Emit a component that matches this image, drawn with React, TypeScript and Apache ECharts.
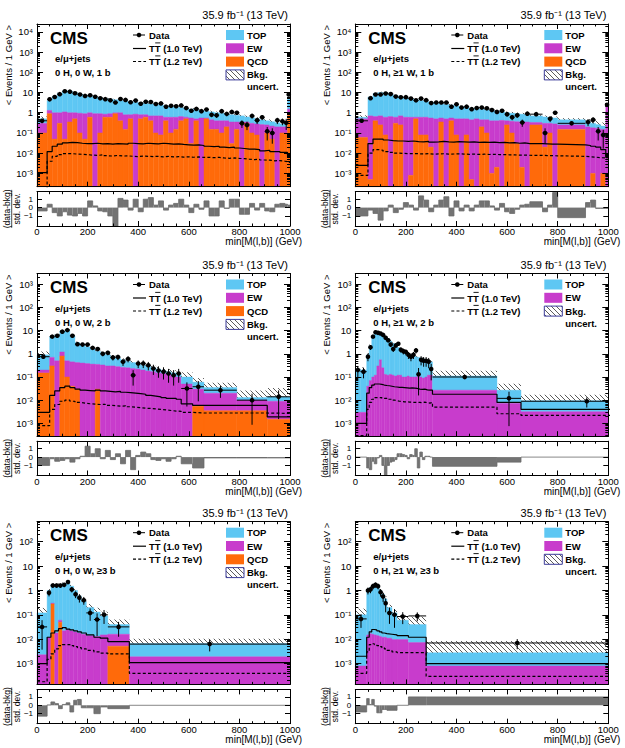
import React, { useEffect, useRef } from "react";
import * as echarts from "echarts";

// ---------------- Panel 1 : 0 H, 0 W, 1 b ----------------
const p1Edges = [0, 40, 60, 80, 100, 120, 140, 160, 180, 200, 220, 240, 260, 280, 300, 320, 340, 360, 380, 400, 420, 440, 460, 480, 500, 520, 540, 560, 580, 600, 620, 640, 660, 680, 700, 720, 740, 760, 780, 800, 820, 840, 860, 880, 900, 920, 940, 960, 980, 990, 1000];
const p1Qcd = [0.1, 0.9, 0.05, 0.3, 0.05, 0.35, 0.5, 0.1, 0.05, 0.6, 0, 0.1, 0.6, 0.6, 0.9, 0.4, 0.15, 0.5, 0, 0.5, 0.6, 0.4, 0.1, 0.08, 0.4, 0.1, 0.15, 0.4, 0.5, 0.03, 0.4, 0, 0.5, 0.15, 0.15, 0.1, 0.2, 0.03, 0.15, 0, 0.3, 0.1, 0.08, 0, 0.1, 0.05, 0, 0.1, 0.1, 1.0];
const p1EwQcd = [0.3, 1.3, 1.0, 1.0, 1.1, 1.0, 1.0, 0.95, 0.9, 1.0, 0.9, 0.9, 0.85, 0.9, 1.0, 1.0, 0.8, 0.8, 0.85, 0.8, 0.8, 0.7, 0.7, 0.7, 0.6, 0.6, 0.6, 0.65, 0.6, 0.55, 0.5, 0.55, 0.55, 0.45, 0.4, 0.4, 0.4, 0.35, 0.35, 0.35, 0.35, 0.3, 0.28, 0.26, 0.25, 0.22, 0.2, 0.2, 0.2, 1.5];
const p1Bkg = [0.5, 4.0, 6.5, 9, 12, 12, 10, 8.5, 7.5, 6.5, 6.0, 5.5, 5.0, 4.7, 4.4, 4.0, 3.7, 3.5, 3.3, 3.1, 2.9, 2.7, 2.5, 2.4, 2.2, 2.0, 1.9, 1.8, 1.6, 1.5, 1.4, 1.3, 1.2, 1.1, 1.0, 0.95, 0.9, 0.8, 0.75, 0.7, 0.62, 0.56, 0.5, 0.45, 0.4, 0.36, 0.32, 0.28, 0.25, 6];
const p1Unc = [0.3, 0.15, 0.12, 0.1, 0.1, 0.1, 0.1, 0.1, 0.1, 0.1, 0.1, 0.1, 0.1, 0.11, 0.11, 0.11, 0.11, 0.11, 0.12, 0.12, 0.12, 0.12, 0.12, 0.12, 0.13, 0.13, 0.13, 0.13, 0.14, 0.14, 0.14, 0.14, 0.15, 0.15, 0.15, 0.16, 0.16, 0.16, 0.17, 0.17, 0.18, 0.18, 0.19, 0.19, 0.2, 0.2, 0.22, 0.22, 0.25, 0.15];
const p1Data = [0.4, 4.6, 6.0, 8.3, 11.5, 11, 9.2, 8.0, 6.8, 7.3, 6.2, 5.2, 4.7, 4.1, 3.2, 4.8, 4.3, 3.3, 4.0, 2.8, 3.5, 3.4, 2.7, 2.9, 2.0, 2.2, 2.1, 2.3, 1.7, 1.25, 1.55, 1.2, 1.45, 0.8, 0.75, 1.2, 0.88, 1.1, 1.0, 0.3, 0.25, 0.7, 0.42, 0.6, 0.12, 0.1, 0.42, 0.38, 0.32, 8];
const p1Ratio = [-0.4, 0.4, -0.6, -1.0, -0.5, -0.9, -1.0, -0.7, -1.0, 0.8, 0.2, -0.4, -0.5, -1.0, -2.2, 1.1, 0.9, -0.3, 1.0, -0.5, 1.0, 1.2, 0.3, 0.8, -0.3, 0.3, 0.5, 1.0, 0.3, -0.6, 0.4, -0.2, 0.8, -1.0, -1.0, 0.8, -0.1, 1.0, 1.0, -0.8, -0.8, 0.5, -0.3, 0.5, -0.4, -0.5, 0.4, 0.5, 0.4, 0.3];
const p1Sig1 = [0.0011, 0.012, 0.022, 0.028, 0.032, 0.034, 0.033, 0.031, 0.030, 0.030, 0.031, 0.029, 0.030, 0.028, 0.030, 0.029, 0.028, 0.031, 0.030, 0.029, 0.031, 0.030, 0.029, 0.031, 0.030, 0.028, 0.029, 0.027, 0.026, 0.025, 0.026, 0.024, 0.022, 0.021, 0.022, 0.020, 0.019, 0.020, 0.018, 0.017, 0.016, 0.016, 0.015, 0.013, 0.014, 0.012, 0.012, 0.011, 0.011, 0.008];
const p1Sig2 = [0.00015, 0.004, 0.007, 0.0085, 0.0095, 0.0095, 0.009, 0.0088, 0.0085, 0.008, 0.0078, 0.0082, 0.0075, 0.0072, 0.0078, 0.0072, 0.0074, 0.007, 0.0068, 0.0072, 0.007, 0.0068, 0.007, 0.0066, 0.0069, 0.0065, 0.0067, 0.0064, 0.0066, 0.0063, 0.0065, 0.0062, 0.0063, 0.006, 0.0062, 0.0058, 0.0056, 0.0058, 0.0055, 0.0054, 0.005, 0.0048, 0.005, 0.0046, 0.0045, 0.0042, 0.0043, 0.004, 0.0038, 0.0035];

// ---------------- Panel 2 : 0 H, >=1 W, 1 b ----------------
const p2Edges = [0, 50, 70, 90, 110, 130, 150, 170, 190, 210, 230, 250, 270, 290, 310, 330, 350, 370, 390, 410, 430, 450, 470, 490, 510, 530, 550, 570, 590, 610, 630, 650, 670, 690, 740, 760, 780, 800, 910, 930, 950, 970, 990, 1000];
const p2Qcd = [0.06, 0.0005, 0.4, 0.25, 0.08, 0, 0.3, 0.25, 0, 0.0008, 0.5, 0.08, 0.08, 0.02, 0, 0.35, 0, 0.4, 0.08, 0, 0.08, 0.0005, 0, 0.2, 0.1, 0.001, 0.002, 0, 0.25, 0.1, 0.03, 0.002, 0, 0.25, 0.02, 0.1, 0, 0.15, 0, 0.001, 0, 0.001, 0];
const p2EwQcd = [0.5, 0.7, 0.65, 0.7, 0.6, 0.65, 0.6, 0.7, 0.6, 0.6, 0.6, 0.6, 0.6, 0.55, 0.5, 0.55, 0.5, 0.55, 0.5, 0.5, 0.5, 0.45, 0.5, 0.45, 0.45, 0.4, 0.4, 0.42, 0.4, 0.38, 0.36, 0.35, 0.35, 0.33, 0.3, 0.3, 0.28, 0.25, 0.2, 0.18, 0.17, 0.15, 2.0];
const p2Bkg = [0.6, 6, 9, 10, 9.5, 8, 7, 6, 5.3, 4.8, 4.4, 4.0, 3.6, 3.3, 3.0, 2.8, 2.6, 2.4, 2.2, 2.0, 1.85, 1.7, 1.6, 1.5, 1.4, 1.3, 1.2, 1.1, 1.0, 0.95, 0.9, 0.85, 0.8, 0.7, 0.62, 0.58, 0.55, 0.45, 0.35, 0.3, 0.26, 0.22, 2.5];
const p2Unc = [0.25, 0.15, 0.1, 0.1, 0.1, 0.1, 0.1, 0.1, 0.1, 0.11, 0.11, 0.11, 0.11, 0.12, 0.12, 0.12, 0.12, 0.12, 0.13, 0.13, 0.13, 0.13, 0.14, 0.14, 0.14, 0.14, 0.15, 0.15, 0.15, 0.16, 0.16, 0.16, 0.17, 0.17, 0.18, 0.18, 0.19, 0.2, 0.4, 0.45, 0.5, 0.5, 0.2];
const p2Data = [0.4, 5.2, 8.0, 8.0, 9.0, 8.4, 6.3, 5.8, 5.9, 5.0, 4.1, 5.0, 4.2, 3.0, 3.2, 3.2, 3.2, 2.0, 2.6, 1.8, 2.0, 1.5, 1.7, 1.8, 1.65, 1.35, 1.1, 1.25, 0.85, 0.6, 0.75, 0.33, 0.9, 0.85, 0.1, 0.5, 1.0, 0.3, 0.35, 0.45, 0.12, 0.08, 2.5];
const p2Ratio = [-1.0, -0.3, -0.7, -1.5, -0.4, 0.3, -0.6, -0.2, 0.6, 0.3, -0.3, 1.4, 0.9, -0.5, 0.3, 0.9, 1.3, -1.0, 0.8, -0.4, 0.3, -0.4, 0.3, 0.8, 0.8, 0.2, -0.3, 0.5, -0.5, -0.7, -0.2, 0.3, 0.4, 0.7, -0.5, 0.3, 1.8, -1.2, 0.6, 0.9, -0.1, -0.1, -0.1];
const p2Sig1 = [0.0025, 0.03, 0.05, 0.05, 0.045, 0.042, 0.04, 0.04, 0.038, 0.04, 0.037, 0.036, 0.038, 0.035, 0.036, 0.038, 0.036, 0.035, 0.037, 0.036, 0.035, 0.036, 0.034, 0.035, 0.034, 0.035, 0.033, 0.034, 0.032, 0.033, 0.031, 0.032, 0.03, 0.03, 0.029, 0.028, 0.028, 0.026, 0.024, 0.022, 0.02, 0.015, 0.007];
const p2Sig2 = [0.0008, 0.01, 0.015, 0.014, 0.012, 0.011, 0.01, 0.0098, 0.0095, 0.0096, 0.0094, 0.0092, 0.0095, 0.009, 0.0092, 0.0094, 0.009, 0.0091, 0.0093, 0.009, 0.0088, 0.009, 0.0087, 0.0089, 0.0086, 0.0088, 0.0085, 0.0086, 0.0083, 0.0082, 0.008, 0.0081, 0.0079, 0.0078, 0.0076, 0.0075, 0.0074, 0.007, 0.0066, 0.0064, 0.006, 0.0058, 0.005];

// ---------------- Panel 3 : 0 H, 0 W, 2 b ----------------
const p3Edges = [0, 50, 70, 90, 110, 130, 150, 170, 190, 210, 230, 250, 270, 290, 310, 330, 350, 370, 390, 410, 430, 450, 470, 490, 510, 530, 550, 570, 615, 660, 790, 910, 1000];
const p3Qcd = [0.15, 0.3, 0, 0.8, 0.1, 0.04, 0.03, 0, 0, 0, 0.03, 0, 0, 0, 0, 0, 0, 0, 0, 0, 0, 0, 0, 0, 0, 0, 0, 0, 0.0055, 0.0035, 0.0035, 0.0015];
const p3EwQcd = [0.2, 0.7, 0.5, 1.2, 0.5, 0.45, 0.42, 0.4, 0.38, 0.36, 0.35, 0.33, 0.3, 0.3, 0.28, 0.26, 0.25, 0.23, 0.22, 0.2, 0.18, 0.17, 0.15, 0.14, 0.13, 0.11, 0.1, 0.05, 0.03, 0.02, 0.01, 0.009];
const p3Bkg = [0.9, 5.5, 6.5, 9.5, 10, 6, 3.0, 2.5, 2.0, 1.6, 1.3, 1.1, 0.9, 0.75, 0.65, 0.55, 0.48, 0.42, 0.36, 0.32, 0.28, 0.25, 0.22, 0.19, 0.17, 0.15, 0.13, 0.1, 0.06, 0.035, 0.013, 0.014];
const p3Unc = [0.4, 0.15, 0.12, 0.1, 0.1, 0.1, 0.12, 0.12, 0.12, 0.13, 0.13, 0.14, 0.14, 0.15, 0.15, 0.16, 0.16, 0.17, 0.18, 0.19, 0.2, 0.22, 0.24, 0.26, 0.28, 0.3, 0.32, 0.6, 0.5, 0.6, 1.0, 1.4];
const p3Data = [0.75, 5.5, 6.0, 9.0, 10.5, 6.0, 2.6, 2.5, 2.5, 1.8, 1.6, 1.0, 1.1, 0.7, 0.72, 0.45, 0.6, 0.12, 0.38, 0.38, 0.32, 0.23, 0.19, 0.17, 0.14, 0.12, 0.14, 0.032, 0.038, 0.027, 0.01, 0.014];
const p3Ratio = [-1.0, -0.2, -0.5, -0.4, -0.2, -0.6, -0.2, 0.1, 1.3, 0.4, 1.0, -0.2, 0.8, -0.3, 0.4, -0.8, 0.8, -1.5, 0.2, 0.6, 0.4, -0.3, -0.4, -0.2, -0.5, -0.2, 0.1, -0.8, -1.3, -0.1, -0.1, -0.1];
const p3Sig1 = [0.003, 0.016, 0.025, 0.035, 0.04, 0.035, 0.03, 0.027, 0.026, 0.025, 0.027, 0.025, 0.024, 0.023, 0.024, 0.022, 0.021, 0.02, 0.019, 0.018, 0.016, 0.015, 0.014, 0.013, 0.012, 0.012, 0.011, 0.007, 0.006, 0.006, 0.006, 0.0019];
const p3Sig2 = [0.0008, 0.004, 0.0065, 0.009, 0.01, 0.009, 0.008, 0.0075, 0.007, 0.0068, 0.0065, 0.0066, 0.006, 0.0058, 0.0055, 0.0057, 0.0052, 0.005, 0.0048, 0.0045, 0.0044, 0.0042, 0.004, 0.0038, 0.0036, 0.0034, 0.0033, 0.003, 0.0028, 0.0028, 0.0028, 0.0027];

// ---------------- Panel 4 : 0 H, >=1 W, 2 b ----------------
const p4Edges = [0, 20, 45, 55, 65, 75, 85, 95, 105, 115, 125, 135, 145, 155, 165, 175, 185, 195, 205, 215, 225, 235, 245, 255, 265, 275, 285, 295, 305, 560, 655, 1175];
const p4Ew = [0.003, 0.003, 0.04, 0.07, 0.1, 0.12, 0.3, 0.55, 0.25, 0.13, 0.12, 0.13, 0.12, 0.11, 0.12, 0.12, 0.1, 0.1, 0.11, 0.1, 0.1, 0.1, 0.11, 0.1, 0.09, 0.1, 0.12, 0.12, 0.027, 0.0073, 0.0032];
const p4Bkg = [0.22, 0.2, 0.9, 2.2, 5.5, 8.0, 8.0, 7.5, 6.5, 5.5, 4.5, 3.5, 2.8, 2.2, 1.9, 1.6, 1.4, 1.2, 1.0, 0.9, 0.8, 0.75, 0.7, 0.65, 0.6, 0.55, 0.5, 0.45, 0.11, 0.027, 0.0095];
const p4Unc = [0.3, 0.3, 0.2, 0.15, 0.12, 0.12, 0.12, 0.12, 0.12, 0.12, 0.12, 0.12, 0.12, 0.12, 0.12, 0.12, 0.12, 0.13, 0.13, 0.13, 0.13, 0.13, 0.14, 0.14, 0.14, 0.15, 0.15, 0.15, 0.7, 0.9, 0.8];
const p4Data = [0.2, 0.17, 0.75, 1.9, 5.5, 8.5, 8.0, 7.5, 6.5, 4.9, 3.8, 2.5, 1.6, 2.3, 2.7, 1.5, 1.3, 1.2, 0.9, 0.75, 0.9, 1.4, 0.13, 0.55, 0.5, 0.5, 0.45, 0.22, 0.1, 0.012, 0.009];
const p4Ratio = [0, 0, -1.3, -1.5, -0.5, -0.8, -0.1, 0.2, -1.0, -2.2, -1.0, -0.6, -0.5, -0.3, 0.4, 0.4, 0.3, 0.2, -0.2, 0.3, 0.2, 1.0, -1.3, 0.6, -0.3, 0.1, 0.1, 0, -1.1, -0.6, 0];
const p4Sig1 = [0.001, 0.001, 0.02, 0.035, 0.045, 0.05, 0.05, 0.048, 0.045, 0.043, 0.042, 0.04, 0.038, 0.037, 0.036, 0.036, 0.035, 0.034, 0.033, 0.034, 0.033, 0.032, 0.03, 0.029, 0.03, 0.028, 0.027, 0.027, 0.018, 0.008, 0.004];
const p4Sig2 = [0.0003, 0.0003, 0.004, 0.008, 0.011, 0.013, 0.013, 0.013, 0.012, 0.012, 0.011, 0.011, 0.01, 0.0095, 0.009, 0.0088, 0.0085, 0.0085, 0.0083, 0.0082, 0.008, 0.0082, 0.008, 0.0078, 0.0082, 0.0078, 0.0075, 0.008, 0.005, 0.0026, 0.0022];

// ---------------- Panel 5 : 0 H, 0 W, >=3 b ----------------
const p5Edges = [0, 40, 55, 70, 85, 100, 115, 130, 145, 160, 175, 195, 225, 250, 280, 365, 1000];
const p5Qcd = [0, 0, 0.28, 0, 0.05, 0, 0, 0, 0, 0, 0, 0, 0, 0, 0.0052, 0];
const p5EwQcd = [0.0023, 0.012, 0.3, 0.018, 0.06, 0.022, 0.025, 0.022, 0.02, 0.018, 0.016, 0.014, 0.013, 0.015, 0.016, 0.0019];
const p5Bkg = [0.12, 1.0, 1.7, 1.7, 1.7, 1.9, 2.0, 1.5, 1.0, 0.6, 0.35, 0.2, 0.13, 0.09, 0.04, 0.0066];
const p5Unc = [0.6, 0.15, 0.15, 0.15, 0.15, 0.15, 0.15, 0.15, 0.15, 0.18, 0.2, 0.4, 0.5, 0.5, 0.6, 0.6];
const p5Data = [0.032, 0.8, 1.6, 1.6, 1.6, 1.7, 2.2, 1.1, 0.7, 0.5, 0.4, 0.12, 0.064, 0.1, 0.032, 0.0063];
const p5Ratio = [-1.3, 0.05, 0.4, 0.2, -0.4, 0.1, 0.3, -0.8, 0.6, 0.7, -0.3, -0.3, -1.0, -0.2, -0.4, 0];
const p5Sig1 = [0.001, 0.012, 0.018, 0.022, 0.027, 0.03, 0.026, 0.024, 0.022, 0.02, 0.018, 0.015, 0.012, 0.011, 0.008, 0.0011];
const p5Sig2 = [0.00018, 0.0015, 0.0025, 0.004, 0.0055, 0.006, 0.006, 0.0055, 0.005, 0.0045, 0.004, 0.0035, 0.003, 0.0027, 0.0025, 0.0004];

// ---------------- Panel 6 : 0 H, >=1 W, >=3 b ----------------
const p6Edges = [0, 45, 55, 65, 75, 85, 95, 105, 115, 125, 145, 165, 210, 280, 1000];
const p6Ew = [0.0008, 0.015, 0.017, 0.016, 0.015, 0.014, 0.013, 0.012, 0.012, 0.011, 0.0097, 0.0097, 0.0073, 0.0008];
const p6Bkg = [0.1, 1.0, 1.3, 1.5, 1.6, 1.5, 1.0, 0.7, 0.45, 0.2, 0.12, 0.06, 0.04, 0.0028];
const p6Unc = [0.8, 0.2, 0.15, 0.15, 0.15, 0.15, 0.2, 0.2, 0.25, 0.3, 0.4, 0.6, 1.1, 2.0];
const p6Data = [0.068, 1.0, 1.1, 1.5, 1.7, 1.5, 0.85, 0.57, 0.3, 0.12, 0.1, 0.085, 0.09, 0.007];
const p6Ratio = [-0.8, 0.8, 0.1, 0.7, -0.1, -0.9, -0.9, -0.5, -0.5, -0.6, -0.6, 0, 1.0, 1.0];
const p6Sig1 = [0.002, 0.012, 0.02, 0.025, 0.024, 0.022, 0.02, 0.018, 0.017, 0.016, 0.015, 0.014, 0.012, 0.001];
const p6Sig2 = [0.0004, 0.003, 0.006, 0.0065, 0.006, 0.0055, 0.005, 0.0045, 0.004, 0.0035, 0.003, 0.0028, 0.0028, 0.0003];

const ratioTicks = [-1, 0, 1];

type Panel = {
  edges: number[]; qcd: number[] | null; ewQcd: number[]; bkg: number[]; unc: number[];
  data: (number | null)[]; ratio: number[]; sig1: number[]; sig2: number[];
  label: string; yMin: number; yMax: number;
};

const PANELS: Panel[] = [
  { edges: p1Edges, qcd: p1Qcd, ewQcd: p1EwQcd, bkg: p1Bkg, unc: p1Unc, data: p1Data, ratio: p1Ratio, sig1: p1Sig1, sig2: p1Sig2, label: "0 H, 0 W, 1 b", yMin: 2.2e-4, yMax: 2.45e4 },
  { edges: p2Edges, qcd: p2Qcd, ewQcd: p2EwQcd, bkg: p2Bkg, unc: p2Unc, data: p2Data, ratio: p2Ratio, sig1: p2Sig1, sig2: p2Sig2, label: "0 H, \u22651 W, 1 b", yMin: 2.2e-4, yMax: 2.45e4 },
  { edges: p3Edges, qcd: p3Qcd, ewQcd: p3EwQcd, bkg: p3Bkg, unc: p3Unc, data: p3Data, ratio: p3Ratio, sig1: p3Sig1, sig2: p3Sig2, label: "0 H, 0 W, 2 b", yMin: 2.8e-4, yMax: 2.9e3 },
  { edges: p4Edges, qcd: null, ewQcd: p4Ew, bkg: p4Bkg, unc: p4Unc, data: p4Data, ratio: p4Ratio, sig1: p4Sig1, sig2: p4Sig2, label: "0 H, \u22651 W, 2 b", yMin: 2.8e-4, yMax: 2.9e3 },
  { edges: p5Edges, qcd: p5Qcd, ewQcd: p5EwQcd, bkg: p5Bkg, unc: p5Unc, data: p5Data, ratio: p5Ratio, sig1: p5Sig1, sig2: p5Sig2, label: "0 H, 0 W, \u22653 b", yMin: 1.4e-4, yMax: 6.6e2 },
  { edges: p6Edges, qcd: null, ewQcd: p6Ew, bkg: p6Bkg, unc: p6Unc, data: p6Data, ratio: p6Ratio, sig1: p6Sig1, sig2: p6Sig2, label: "0 H, \u22651 W, \u22653 b", yMin: 1.4e-4, yMax: 6.6e2 },
];

// ---------------- layout / style ----------------
const FONT = "'Liberation Sans', Arial, Helvetica, sans-serif";
const COL_LEFT = [37, 355.3];
const ROW_TOP = [24, 273.5, 521.7];
const PLOT_W = 253;
const MAIN_H = 162.7;
const RATIO_GAP = 5;
const RATIO_H = 34.3;
const C_TOP = "#5ec7f3";
const C_EW = "#c83ccc";
const C_QCD = "#ff6a0a";
const C_RATIO = "#737373";
const AX = { color: "#000", width: 1 };

const SUP: Record<string, string> = { "-": "\u207b", "0": "\u2070", "1": "\u00b9", "2": "\u00b2", "3": "\u00b3", "4": "\u2074", "5": "\u2075", "6": "\u2076", "7": "\u2077", "8": "\u2078", "9": "\u2079" };
function powLabel(v: number) {
  const l = Math.log10(v);
  const n = Math.round(l);
  if (Math.abs(l - n) > 0.01) return "";
  if (n === 0) return "1";
  if (n === 1) return "10";
  return "10" + String(n).split("").map((c) => SUP[c]).join("");
}

function makeHatch() {
  const c = document.createElement("canvas");
  c.width = 5;
  c.height = 5;
  const ctx = c.getContext("2d")!;
  ctx.strokeStyle = "#4a4a4a";
  ctx.lineWidth = 0.9;
  ctx.beginPath();
  for (let k = -5; k <= 10; k += 5) {
    ctx.moveTo(k, 0);
    ctx.lineTo(k + 5, 5);
  }
  ctx.stroke();
  return c;
}

function xCfg(g: number, pos: string, labels: boolean) {
  return {
    type: "value", gridIndex: g, position: pos, min: 0, max: 1000, interval: 200, z: 10,
    axisLine: { show: true, onZero: false, lineStyle: AX },
    axisTick: { show: true, inside: true, length: 5, lineStyle: AX },
    minorTick: { show: true, splitNumber: 4, length: 2.5, lineStyle: AX },
    axisLabel: { show: labels, showMinLabel: true, showMaxLabel: true, formatter: (v: number) => String(Math.round(v)), color: "#000", fontFamily: FONT, fontSize: 9.5, margin: 0.5 },
    splitLine: { show: false }, minorSplitLine: { show: false },
  };
}
function logCfg(g: number, pos: string, p: Panel, labels: boolean) {
  return {
    type: "log", logBase: 10, gridIndex: g, position: pos, min: p.yMin, max: p.yMax, z: 10,
    axisLine: { show: true, onZero: false, lineStyle: AX },
    axisTick: { show: true, inside: true, length: 6, lineStyle: AX },
    axisLabel: { show: labels, showMinLabel: true, showMaxLabel: true, formatter: powLabel, color: "#000", fontFamily: FONT, fontSize: 9.5, margin: 4 },
    splitLine: { show: false },
  };
}
function minorCfg(g: number, pos: string, p: Panel) {
  const lo = Math.log10(p.yMin), hi = Math.log10(p.yMax);
  const vals: number[] = [];
  for (let e = Math.floor(lo); e <= Math.ceil(hi); e++) {
    for (let k = 2; k <= 9; k++) {
      const v = e + Math.log10(k);
      if (v > lo && v < hi) vals.push(v);
    }
  }
  return {
    type: "value", gridIndex: g, position: pos, min: lo, max: hi, z: 10,
    axisLine: { show: false, onZero: false }, axisLabel: { show: false }, splitLine: { show: false },
    axisTick: { show: true, inside: true, length: 3, lineStyle: AX, customValues: vals },
  };
}
function ratioCfg(g: number, pos: string, labels: boolean) {
  return {
    type: "value", gridIndex: g, position: pos, min: -2.2, max: 1.9, z: 10,
    axisLine: { show: true, onZero: false, lineStyle: AX },
    axisTick: { show: true, inside: true, length: 5, lineStyle: AX, customValues: ratioTicks },
    axisLabel: {
      show: labels, customValues: ratioTicks, interval: 0, showMinLabel: true, showMaxLabel: true, hideOverlap: false,
      formatter: (v: number) => (v < 0 ? "\u22121" : String(v)), color: "#000", fontFamily: FONT, fontSize: 8, lineHeight: 7, margin: 4,
    },
    splitLine: { show: false },
  };
}

function txt(x: number, y: number, text: string, size: number, weight = "normal", align = "left", extra: any = {}) {
  return {
    type: "text", x, y, z: 20, silent: true,
    style: { text, fontSize: size, fontFamily: FONT, fontWeight: weight, fill: "#000", align, verticalAlign: "middle" },
    ...extra,
  };
}

function buildOption() {
  const hatchFill: any = { image: makeHatch(), repeat: "repeat" };
  const grid: any[] = [], xAxis: any[] = [], yAxis: any[] = [], series: any[] = [], graphic: any[] = [];

  PANELS.forEach((p, i) => {
    const col = i % 2, row = Math.floor(i / 2);
    const L = COL_LEFT[col], T = ROW_TOP[row];
    const RT = T + MAIN_H + RATIO_GAP;
    const gM = grid.length; grid.push({ left: L, top: T, width: PLOT_W, height: MAIN_H });
    const gR = grid.length; grid.push({ left: L, top: RT, width: PLOT_W, height: RATIO_H });
    const xM = xAxis.length; xAxis.push(xCfg(gM, "bottom", false), xCfg(gM, "top", false));
    const xR = xAxis.length; xAxis.push(xCfg(gR, "bottom", true), xCfg(gR, "top", false));
    const yM = yAxis.length;
    yAxis.push(logCfg(gM, "left", p, true), logCfg(gM, "right", p, false), minorCfg(gM, "left", p), minorCfg(gM, "right", p));
    const yR = yAxis.length; yAxis.push(ratioCfg(gR, "left", true), ratioCfg(gR, "right", false));

    const n = p.bkg.length;
    const stackData: number[][] = [], hatchData: number[][] = [], pts: number[][] = [], ratioData: number[][] = [];
    const s1: number[][] = [], s2: number[][] = [], rLine: number[][] = [];
    for (let j = 0; j < n; j++) {
      const x0 = p.edges[j], x1 = p.edges[j + 1], w = x1 - x0;
      stackData.push([x0, x1, p.qcd ? p.qcd[j] : 0, p.ewQcd[j], p.bkg[j]]);
      hatchData.push([x0, x1, p.bkg[j], p.bkg[j] * (1 + p.unc[j])]);
      const d = p.data[j];
      if (d != null && d > 0) pts.push([x0, x1, d, Math.sqrt(d * w) / w]);
      ratioData.push([x0, x1, p.ratio[j]]);
      s1.push([x0, p.sig1[j]], [x1, p.sig1[j]]);
      s2.push([x0, p.sig2[j]], [x1, p.sig2[j]]);
      rLine.push([x0, p.ratio[j]], [x1, p.ratio[j]]);
    }
    const yMin = p.yMin;

    const clampers = (cs: any) => ({
      cx: (x: number) => Math.max(cs.x, Math.min(cs.x + cs.width, x)),
      cy: (y: number) => Math.max(cs.y, Math.min(cs.y + cs.height, y)),
    });

    // stacked background histogram
    series.push({
      type: "custom", xAxisIndex: xM, yAxisIndex: yM, z: 2, silent: true,
      dimensions: ["x0", "x1", "qcd", "ewqcd", "bkg"], encode: { x: [0, 1], y: [4] },
      data: stackData,
      renderItem: (params: any, api: any) => {
        const cs = params.coordSys;
        const { cx, cy } = clampers(cs);
        const yb = cs.y + cs.height;
        const px0 = cx(api.coord([api.value(0), yMin])[0]);
        const px1 = cx(api.coord([api.value(1), yMin])[0]);
        const yOf = (v: number) => (v > 0 ? cy(api.coord([api.value(0), v])[1]) : yb);
        const yq = yOf(api.value(2)), ye = yOf(api.value(3)), yt = yOf(api.value(4));
        const ch: any[] = [];
        const r = (y0: number, y1: number, c: string) => ({ type: "rect", shape: { x: px0, y: y0, width: px1 - px0, height: y1 - y0 }, style: { fill: c, stroke: c, lineWidth: 0.4 } });
        if (yt < ye) ch.push(r(yt, ye, C_TOP));
        if (ye < yq) ch.push(r(ye, yq, C_EW));
        if (yq < yb) ch.push(r(yq, yb, C_QCD));
        return { type: "group", children: ch };
      },
    });
    // uncertainty band
    series.push({
      type: "custom", xAxisIndex: xM, yAxisIndex: yM, z: 3, silent: true,
      dimensions: ["x0", "x1", "bkg", "up"], encode: { x: [0, 1], y: [3] },
      data: hatchData,
      renderItem: (params: any, api: any) => {
        const cs = params.coordSys;
        const { cx, cy } = clampers(cs);
        const px0 = cx(api.coord([api.value(0), yMin])[0]);
        const px1 = cx(api.coord([api.value(1), yMin])[0]);
        const y0 = cy(api.coord([api.value(0), api.value(3)])[1]);
        const y1 = cy(api.coord([api.value(0), api.value(2)])[1]);
        return { type: "rect", shape: { x: px0, y: y0, width: px1 - px0, height: Math.max(0, y1 - y0) }, style: { fill: hatchFill } };
      },
    });
    // signals
    series.push({
      type: "line", xAxisIndex: xM, yAxisIndex: yM, z: 4, silent: true, symbol: "none", showSymbol: false,
      data: s1, lineStyle: { color: "#000", width: 1.2 }, clip: true,
    });
    series.push({
      type: "line", xAxisIndex: xM, yAxisIndex: yM, z: 4, silent: true, symbol: "none", showSymbol: false,
      data: s2, lineStyle: { color: "#000", width: 1.2, type: [3, 2.2] }, clip: true,
    });
    // data points
    series.push({
      type: "custom", xAxisIndex: xM, yAxisIndex: yM, z: 5, silent: true,
      dimensions: ["x0", "x1", "v", "err"], encode: { x: [0, 1], y: [2] },
      data: pts,
      renderItem: (params: any, api: any) => {
        const cs = params.coordSys;
        const { cx, cy } = clampers(cs);
        const x0 = api.value(0), x1 = api.value(1), v = api.value(2), e = api.value(3);
        const xc = (x0 + x1) / 2;
        const c = api.coord([xc, v]);
        const pl = cx(api.coord([x0, v])[0]), pr = cx(api.coord([x1, v])[0]);
        const lo = v - e > yMin ? api.coord([xc, v - e])[1] : cs.y + cs.height;
        const hi = cy(api.coord([xc, v + e])[1]);
        const st = { stroke: "#000", lineWidth: 1 };
        return {
          type: "group",
          children: [
            { type: "line", shape: { x1: pl, y1: c[1], x2: pr, y2: c[1] }, style: st },
            { type: "line", shape: { x1: c[0], y1: hi, x2: c[0], y2: lo }, style: st },
            { type: "circle", shape: { cx: c[0], cy: c[1], r: 2.3 }, style: { fill: "#000" } },
          ],
        };
      },
    });
    // ratio bars
    series.push({
      type: "custom", xAxisIndex: xR, yAxisIndex: yR, z: 2, silent: true,
      dimensions: ["x0", "x1", "r"], encode: { x: [0, 1], y: [2] },
      data: ratioData,
      renderItem: (params: any, api: any) => {
        const cs = params.coordSys;
        const { cx, cy } = clampers(cs);
        const px0 = cx(api.coord([api.value(0), 0])[0]);
        const px1 = cx(api.coord([api.value(1), 0])[0]);
        const y0 = cy(api.coord([api.value(0), 0])[1]);
        const y1 = cy(api.coord([api.value(0), api.value(2)])[1]);
        return { type: "rect", shape: { x: px0, y: Math.min(y0, y1), width: px1 - px0, height: Math.abs(y1 - y0) }, style: { fill: C_RATIO } };
      },
    });
    series.push({
      type: "line", xAxisIndex: xR, yAxisIndex: yR, z: 3, silent: true, symbol: "none", showSymbol: false,
      data: rLine, lineStyle: { color: "#6a6a6a", width: 0.8 }, clip: true,
    });

    // ---------- texts & legend ----------
    const RB = RT + RATIO_H;
    const RC = RT + RATIO_H / 2;
    graphic.push(txt(L + 251, T - 9, "35.9 fb\u207b\u00b9 (13 TeV)", 11, "normal", "right"));
    graphic.push(txt(L + 13, T + 14, "CMS", 17, "bold"));
    graphic.push(txt(L + 18, T + 34.5, "e/\u03bc+jets", 9.5, "bold"));
    graphic.push(txt(L + 18, T + 48.5, p.label, 9.5, "bold"));
    graphic.push(txt(L - 29, T + 1, "< Events / 1 GeV >", 9.5, "normal", "right", { rotation: Math.PI / 2 }));
    graphic.push(txt(L - 30, RC, "(data-bkg)", 8.5, "normal", "center", { rotation: Math.PI / 2 }));
    graphic.push({ type: "line", z: 20, silent: true, shape: { x1: L - 25.3, y1: RC - 19, x2: L - 25.3, y2: RC + 19 }, style: { stroke: "#000", lineWidth: 0.7 } });
    graphic.push(txt(L - 20.5, RC, "std. dev.", 8.5, "normal", "center", { rotation: Math.PI / 2 }));
    graphic.push(txt(L + 265, RB + 15.5, "min[M(l,b)] (GeV)", 10, "normal", "right"));

    // legend: data & signals
    const lx = L + 96;
    const tx = lx + 16;
    graphic.push({ type: "line", z: 20, silent: true, shape: { x1: lx, y1: T + 11, x2: lx + 12, y2: T + 11 }, style: { stroke: "#000", lineWidth: 1 } });
    graphic.push({ type: "circle", z: 21, silent: true, shape: { cx: lx + 6, cy: T + 11, r: 2.3 }, style: { fill: "#000" } });
    graphic.push(txt(tx, T + 11, "Data", 9.5, "bold"));
    [[24.5, false, "1.0"], [37.5, true, "1.2"]].forEach(([dy, dashed, m]: any) => {
      const y = T + dy;
      graphic.push({ type: "line", z: 20, silent: true, shape: { x1: lx, y1: y, x2: lx + 13, y2: y }, style: { stroke: "#000", lineWidth: 1.2, lineDash: dashed ? [3, 2.2] : null } });
      graphic.push(txt(tx, y, "TT (" + m + " TeV)", 9.5, "bold"));
      graphic.push({ type: "line", z: 21, silent: true, shape: { x1: tx + 6.2, y1: y - 5.6, x2: tx + 11.4, y2: y - 5.6 }, style: { stroke: "#000", lineWidth: 0.9 } });
    });

    // legend: backgrounds
    const bx = L + 189;
    const entries: [string, any][] = p.qcd ? [["TOP", C_TOP], ["EW", C_EW], ["QCD", C_QCD]] : [["TOP", C_TOP], ["EW", C_EW]];
    entries.forEach(([name, color], k) => {
      const yc = T + 11 + k * 13.3;
      graphic.push({ type: "rect", z: 20, silent: true, shape: { x: bx, y: yc - 5, width: 18, height: 10 }, style: { fill: color } });
      graphic.push(txt(bx + 21, yc, name, 9.5, "bold"));
    });
    const yu = T + 11 + entries.length * 13.3;
    graphic.push({ type: "rect", z: 20, silent: true, shape: { x: bx, y: yu - 5, width: 18, height: 10 }, style: { fill: hatchFill, stroke: "#3c3c9a", lineWidth: 1 } });
    graphic.push(txt(bx + 21, yu, "Bkg.", 9.5, "bold"));
    graphic.push(txt(bx + 21, yu + 12, "uncert.", 9.5, "bold"));
  });

  return {
    animation: false,
    backgroundColor: "#fff",
    grid, xAxis, yAxis, series, graphic,
  };
}

export default function App() {
  const ref = useRef<HTMLDivElement>(null);
  useEffect(() => {
    if (!ref.current) return;
    const chart = echarts.init(ref.current, undefined, { renderer: "svg" });
    chart.setOption(buildOption() as any);
    return () => chart.dispose();
  }, []);
  return <div ref={ref} style={{ position: "absolute", left: 0, top: 0, width: 625, height: 748, background: "#fff" }} />;
}
